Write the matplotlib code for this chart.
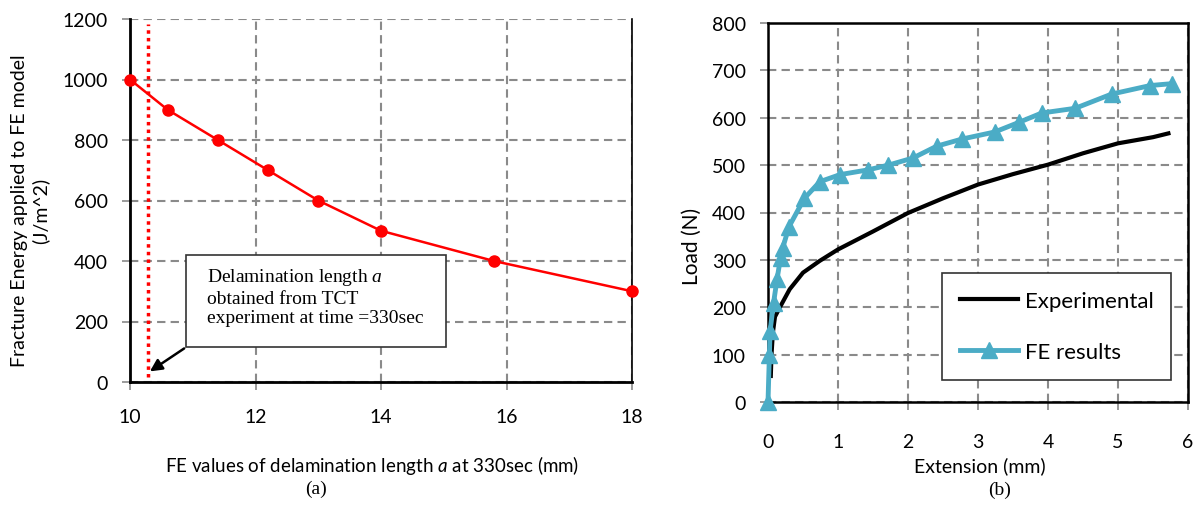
import matplotlib.pyplot as plt

# (a) fracture energy applied to FE model vs FE delamination length
a_len = [10.0, 10.6, 11.4, 12.2, 13.0, 14.0, 15.8, 18.0]
frac_energy = [1000, 900, 800, 700, 600, 500, 400, 300]
a_tct = 10.28  # delamination length from TCT experiment

# (b) load vs extension
exp_ext = [0.04, 0.05, 0.07, 0.10, 0.17, 0.31, 0.50, 0.74, 1.0, 1.5, 2.0,
           2.5, 3.0, 3.5, 4.0, 4.5, 5.0, 5.5, 5.72]
exp_load = [55, 100, 147, 180, 200, 238, 273, 298, 322, 360, 399,
            430, 459, 481, 501, 525, 546, 559, 567]
fe_ext = [0.0, 0.02, 0.03, 0.08, 0.13, 0.18, 0.21, 0.30, 0.52, 0.74, 1.03,
          1.43, 1.72, 2.07, 2.41, 2.77, 3.24, 3.58, 3.91, 4.39, 4.91, 5.46, 5.77]
fe_load = [0, 100, 150, 210, 260, 305, 325, 370, 430, 465, 480,
           490, 500, 515, 540, 555, 570, 590, 610, 620, 650, 668, 672]

sans = ['Lato', 'DejaVu Sans']
serif = ['Liberation Serif', 'DejaVu Serif']
plt.rcParams['font.family'] = sans
# italic "a": serif in the note box, sans in the axis label
plt.rcParams['mathtext.fontset'] = 'custom'
plt.rcParams['mathtext.it'] = 'Liberation Serif:italic'
plt.rcParams['mathtext.sf'] = 'Lato:italic'

W, H = 1194, 506
fig = plt.figure(figsize=(W / 100, H / 100), dpi=100)


def fx(px):
    return px / W


def fy(py):
    return 1 - py / H


grid_kw = dict(color='#8a8a8a', linestyle=(0, (4, 2.5)), linewidth=1.5)

# ---------------- (a) ----------------
ax1 = fig.add_axes([fx(130), fy(383), fx(632) - fx(130), fy(20) - fy(383)])
ax1.plot(a_len, frac_energy, color='red', lw=1.8, marker='o', ms=8,
         clip_on=False, zorder=4)
ax1.plot([a_tct, a_tct], [15, 1185], color='red', lw=2.5, linestyle=(0, (1, 1.2)),
         zorder=3)
ax1.set_xlim(10, 18)
ax1.set_ylim(0, 1200)
ax1.set_xticks([10, 12, 14, 16, 18])
ax1.set_yticks(range(0, 1201, 200))
ax1.grid(True, **grid_kw)
ax1.set_axisbelow(True)
ax1.spines['top'].set_visible(False)
ax1.spines['left'].set_linewidth(2)
ax1.spines['bottom'].set_linewidth(2)
ax1.spines['right'].set_linewidth(1.2)
ax1.tick_params(axis='both', direction='out', length=6, width=1.2,
                color='#8a8a8a', labelsize=14)
ax1.tick_params(axis='x', pad=13)
ax1.tick_params(axis='y', pad=10)

ax1.annotate('', xy=(a_tct, 30), xytext=(10.9, 116),
             arrowprops=dict(arrowstyle='-|>', color='black', lw=1.8,
                             mutation_scale=18), zorder=5)
box = plt.Rectangle((10.9, 116), 4.13, 304, facecolor='white',
                    edgecolor='#333333', lw=1.2, zorder=5)
ax1.add_patch(box)
ax1.text(11.22, 383,
         'Delamination length $\\mathit{a}$\nobtained from TCT\nexperiment at time =330sec',
         family=serif, fontsize=14, va='top', ha='left', linespacing=1.2,
         zorder=6)

fig.text(fx(30), fy(211), 'Fracture Energy applied to FE model\n(J/m^2)',
         rotation=90, ha='center', va='center', multialignment='center',
         fontsize=14, linespacing=1.25)
fig.text(fx(372), fy(466), 'FE values of delamination length $\\mathsf{a}$ at 330sec (mm)',
         ha='center', va='center', fontsize=13.5)
fig.text(fx(316), fy(489), '(a)', family=serif, ha='center', va='center',
         fontsize=14)

# ---------------- (b) ----------------
ax2 = fig.add_axes([fx(768), fy(403), fx(1188) - fx(768), fy(24) - fy(403)])
ax2.plot(exp_ext, exp_load, color='black', lw=3, label='Experimental', zorder=4)
ax2.plot(fe_ext, fe_load, color='#4BACC6', lw=3.5, marker='^', ms=11,
         label='FE results', clip_on=False, zorder=5)
ax2.set_xlim(0, 6)
ax2.set_ylim(0, 800)
ax2.set_xticks(range(0, 7))
ax2.set_yticks(range(0, 801, 100))
ax2.grid(True, **grid_kw)
ax2.set_axisbelow(True)
for s in ax2.spines.values():
    s.set_linewidth(1.8)
ax2.tick_params(axis='both', direction='out', length=6, width=1.2,
                color='#8a8a8a', labelsize=14)
ax2.tick_params(axis='x', pad=16)
ax2.tick_params(axis='y', pad=10)

leg = ax2.legend(loc='lower right', bbox_to_anchor=(0.96, 0.058), fontsize=16,
                 frameon=True, fancybox=False, handlelength=2.6,
                 labelspacing=1.4, borderpad=0.8, handletextpad=0.3,
                 borderaxespad=0, markerscale=1.0)
leg.get_frame().set_edgecolor('#333333')
leg.get_frame().set_linewidth(1.2)
leg.get_frame().set_alpha(1)

fig.text(fx(692), fy(246), 'Load (N)', rotation=90, ha='center', va='center',
         fontsize=15)
fig.text(fx(980), fy(466), 'Extension (mm)', ha='center', va='center',
         fontsize=14)
fig.text(fx(1000), fy(490), '(b)', family=serif, ha='center', va='center',
         fontsize=14)

fig.savefig('out.png', dpi=100)
